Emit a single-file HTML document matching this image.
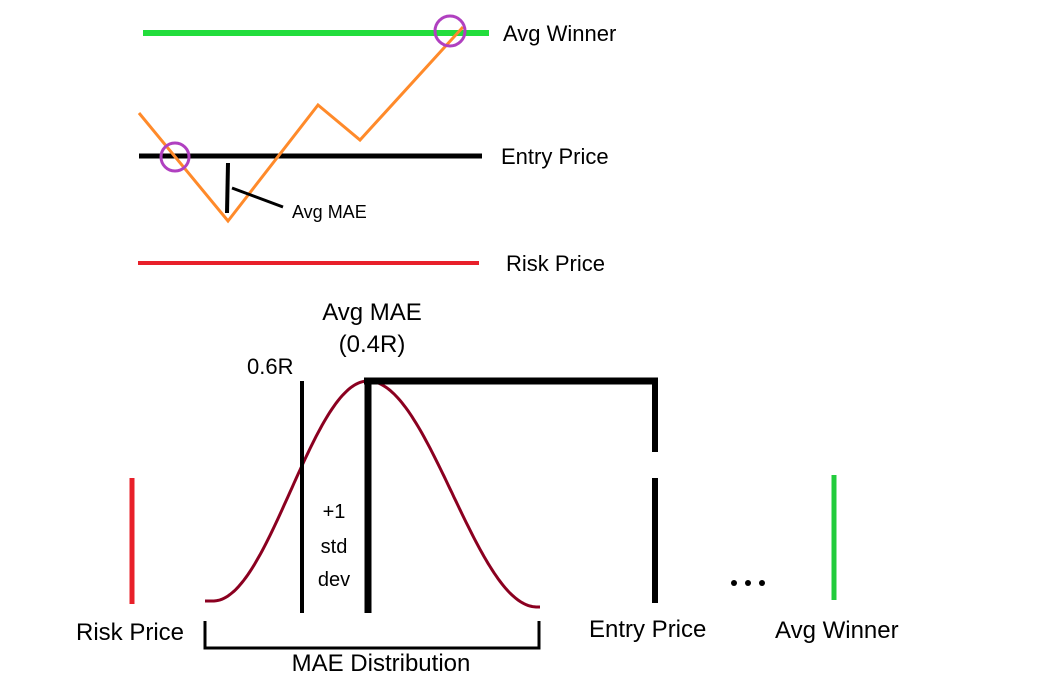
<!DOCTYPE html>
<html><head><meta charset="utf-8"><style>
html,body{margin:0;padding:0;background:#fff;}
svg{display:block;font-family:"Liberation Sans","DejaVu Sans",sans-serif;}
</style></head><body>
<svg id="chart" width="1047" height="698" viewBox="0 0 1047 698">
<rect width="1047" height="698" fill="#fff"/>
<g>
<line x1="143" y1="33" x2="489" y2="33" stroke="#22dd3c" stroke-width="6"/>
<text x="503" y="41" font-size="22">Avg Winner</text>
<line x1="139" y1="156" x2="482" y2="156" stroke="#000" stroke-width="5"/>
<text x="501" y="164" font-size="22">Entry Price</text>
<line x1="138" y1="263" x2="479" y2="263" stroke="#e8202a" stroke-width="4"/>
<text x="506" y="271" font-size="22">Risk Price</text>
<polyline id="pricePath" fill="none" stroke="#ff8a2a" stroke-width="3"/>
<circle cx="175" cy="157" r="14" fill="none" stroke="#b040c0" stroke-width="3"/>
<circle cx="450" cy="31" r="15" fill="none" stroke="#b040c0" stroke-width="3"/>
<line x1="228" y1="163" x2="227" y2="213" stroke="#000" stroke-width="4"/>
<line x1="232" y1="188" x2="283" y2="207" stroke="#000" stroke-width="3"/>
<text x="292" y="218" font-size="18">Avg MAE</text>
</g>
<g>
<text x="372" y="320" font-size="24" text-anchor="middle">Avg MAE</text>
<text x="372" y="352" font-size="24" text-anchor="middle">(0.4R)</text>
<text x="247" y="374" font-size="22">0.6R</text>
<path id="bell" fill="none" stroke="#8b0020" stroke-width="3"/>
<line x1="302" y1="381" x2="302" y2="613" stroke="#000" stroke-width="4"/>
<line x1="368" y1="381" x2="368" y2="613" stroke="#000" stroke-width="7"/>
<line x1="364" y1="381" x2="658" y2="381" stroke="#000" stroke-width="7"/>
<line x1="655" y1="381" x2="655" y2="452" stroke="#000" stroke-width="6"/>
<line x1="655" y1="478" x2="655" y2="603" stroke="#000" stroke-width="6"/>
<text x="334" y="518" font-size="20" text-anchor="middle">+1</text>
<text x="334" y="553" font-size="20" text-anchor="middle">std</text>
<text x="334" y="586" font-size="20" text-anchor="middle">dev</text>
<line x1="132" y1="478" x2="132" y2="604" stroke="#e8202a" stroke-width="5"/>
<line x1="834" y1="475" x2="834" y2="600" stroke="#22cc3c" stroke-width="5"/>
<g><circle cx="734" cy="583" r="3"/><circle cx="748" cy="583" r="3"/><circle cx="762" cy="583" r="3"/></g>
<text x="76" y="640" font-size="24">Risk Price</text>
<text x="589" y="637" font-size="24">Entry Price</text>
<text x="775" y="638" font-size="24">Avg Winner</text>
<polyline points="205,621 205,648 539,648 539,621" fill="none" stroke="#000" stroke-width="3"/>
<text x="381" y="671" font-size="24" text-anchor="middle">MAE Distribution</text>
</g>
<script>
var pathX = [139, 228, 318, 360, 463];
var pathY = [113, 221, 105, 140, 27];
var pl = document.getElementById('pricePath');
pl.setAttribute('points', pathX.map(function(x,i){return x+','+pathY[i];}).join(' '));
var bellPeak = 368, bellStart = 205, bellEnd = 540;
var d = 'M' + bellStart + ',601';
for (var x = bellStart + 5; x <= bellEnd; x += 2) {
  var half = x < bellPeak ? (bellPeak - 213) : (bellEnd - 3 - bellPeak);
  var base = x < bellPeak ? 601 : 607;
  var t = Math.min(1, Math.abs(x - bellPeak) / half);
  var y = base - (base - 381) * (1 + Math.cos(Math.PI * t)) / 2;
  d += 'L' + x + ',' + y.toFixed(1);
}
document.getElementById('bell').setAttribute('d', d);
</script>
</svg>
</body></html>
